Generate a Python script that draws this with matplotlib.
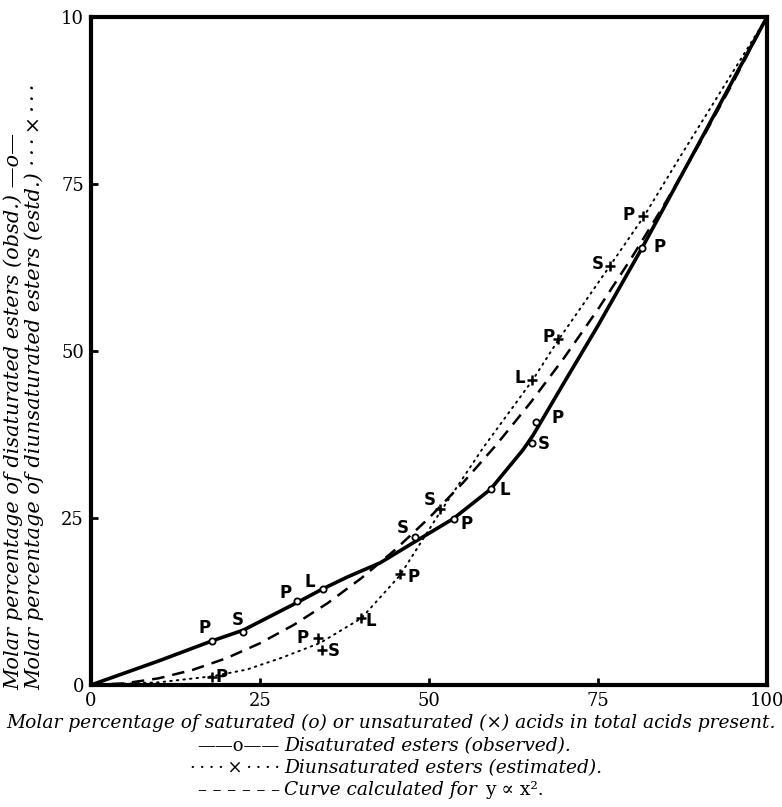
import matplotlib
matplotlib.use("Agg")
import matplotlib.pyplot as plt

# ---- data ----
obs_x = [17.9, 22.5, 30.4, 34.3, 47.9, 53.7, 59.1, 65.2, 65.8, 81.5]
obs_y = [6.6, 8.0, 12.6, 14.4, 22.2, 24.8, 29.3, 36.3, 39.3, 65.4]
obs_lab = ['P', 'S', 'P', 'L', 'S', 'P', 'L', 'S', 'P', 'P']

est_x = [17.9, 33.6, 34.1, 40.0, 45.7, 51.6, 65.3, 69.1, 76.8, 81.7]
est_y = [1.25, 7.1, 5.3, 10.0, 16.6, 26.3, 45.7, 51.8, 62.7, 70.2]
est_lab = ['P', 'P', 'S', 'L', 'P', 'S', 'L', 'P', 'S', 'P']

solid_x = [0, 10, 17.9, 22.5, 30.4, 34.3, 38, 42.8, 48, 53.6, 59.1, 63.9, 65.4, 70, 75, 81.5, 89.5, 100]
solid_y = [0, 3.6, 6.6, 8.2, 12.3, 14.4, 16.2, 18.3, 21.5, 24.9, 29.3, 35.2, 37.4, 45.3, 53.8, 65.4, 80.3, 100]

dot_x = [0, 10, 17.9, 23, 28, 33.9, 40, 45.7, 51.6, 58, 65.3, 69.1, 76.8, 81.7, 87.1, 100]
dot_y = [0, 0.4, 1.3, 2.3, 4.0, 6.3, 10.0, 16.4, 25.8, 35.5, 45.6, 51.6, 62.8, 70.0, 79.0, 100]

dash_x = [0, 5, 10, 15, 20, 25, 30, 35, 40, 45, 50, 55, 60, 65, 70, 75, 80, 85, 90, 95, 100]
dash_y = [0, 0.25, 1, 2.25, 4, 6.25, 9, 12.25, 16, 20.25, 25, 30.25, 36, 42.25, 49, 56.25, 64, 72.25, 81, 90.25, 100]

x_ticks = [0, 25, 50, 75, 100]
x_ticklabels = ['0', '25', '50', '75', '100']
y_ticks = [0, 25, 50, 75, 100]
y_ticklabels = ['0', '25', '50', '75', '10']

# label offsets in pixels (style)
obs_off = [(-7, 13), (-5, 12), (-11, 8), (-13, 7), (-12, 9), (13, -5), (14, -1), (12, -1), (22, 4), (18, 1)]
est_off = [(10, 0), (-16, 0), (12, -1), (9, -3), (14, -3), (-10, 9), (-13, 2), (-10, 2), (-12, 2), (-15, 1)]

W, H = 782, 807
fig = plt.figure(figsize=(W / 100, H / 100), dpi=100)
ax = fig.add_axes([91 / W, 1 - 685 / H, 676 / W, 668 / H])

ax.plot(solid_x, solid_y, color='black', lw=2.6, solid_capstyle='round', zorder=3)
ax.plot(dash_x, dash_y, color='black', lw=1.8, dashes=(5, 3.2), zorder=2)
ax.plot(dot_x, dot_y, color='black', lw=1.4, dashes=(0.8, 2.6), dash_capstyle='round', zorder=2)

ax.plot(obs_x, obs_y, 'o', ms=4.5, mfc='white', mec='black', mew=1.3, zorder=4, clip_on=False)
ax.plot(est_x, est_y, '+', ms=6.5, mec='black', mew=1.8, zorder=4, clip_on=False)

lab_font = dict(family='DejaVu Sans', fontsize=12, fontweight='bold')
for x, y, t, (dx, dy) in zip(obs_x, obs_y, obs_lab, obs_off):
    ax.annotate(t, (x, y), xytext=(dx, dy), textcoords='offset pixels',
                ha='center', va='center', **lab_font)
for x, y, t, (dx, dy) in zip(est_x, est_y, est_lab, est_off):
    ax.annotate(t, (x, y), xytext=(dx, dy), textcoords='offset pixels',
                ha='center', va='center', **lab_font)

ax.set_xlim(0, 100)
ax.set_ylim(0, 100)
for s in ax.spines.values():
    s.set_linewidth(3.0)
ax.set_xticks(x_ticks)
ax.set_xticklabels(x_ticklabels)
ax.set_yticks(y_ticks)
ax.set_yticklabels(y_ticklabels)
ax.tick_params(direction='in', length=5, width=2, pad=5,
               labelsize=13)
for lab in ax.get_xticklabels() + ax.get_yticklabels():
    lab.set_family('DejaVu Serif')

serif = 'DejaVu Serif'
fig.text(0.5, 1 - 723 / H,
         'Molar percentage of saturated (o) or unsaturated (\u00d7) acids in total acids present.',
         ha='center', va='center', family=serif, style='italic', fontsize=13.4)

fig.text(13 / W, 1 - 690 / H,
         'Molar percentage of disaturated esters (obsd.) \u2014o\u2014',
         rotation=90, ha='center', va='bottom', family=serif, style='italic', fontsize=15)
fig.text(34 / W, 1 - 690 / H,
         'Molar percentage of diunsaturated esters (estd.) \u00b7\u2009\u00b7\u2009\u00b7\u2009\u00d7\u2009\u00b7\u2009\u00b7\u2009\u00b7',
         rotation=90, ha='center', va='bottom', family=serif, style='italic', fontsize=15)

ts = '\u2009'
leg_sym = ['\u2014\u2014o\u2014\u2014',
           ts.join(['\u00b7'] * 4 + ['\u00d7'] + ['\u00b7'] * 4),
           ' '.join(['\u2013'] * 6)]
leg_txt = ['Disaturated esters (observed).', 'Diunsaturated esters (estimated).',
           'Curve calculated for ']
leg_y = [746, 768, 790]
fig.canvas.draw()
renderer = fig.canvas.get_renderer()
for s, t, yy in zip(leg_sym, leg_txt, leg_y):
    fig.text(280 / W, 1 - yy / H, s, ha='right', va='center', family=serif, fontsize=13)
    tx = fig.text(284 / W, 1 - yy / H, t, ha='left', va='center', family=serif, style='italic', fontsize=13.4)
last = tx
bb = last.get_window_extent(renderer=renderer)
fig.text((bb.x1 + 2) / W, 1 - leg_y[2] / H, 'y \u221d x\u00b2.', ha='left', va='center',
         family=serif, fontsize=13.4)

fig.text(0.535, 1 + 4 / H, 'FIG. 1.', ha='center', va='center', family=serif, fontsize=12)

fig.savefig('out.png', dpi=100)
